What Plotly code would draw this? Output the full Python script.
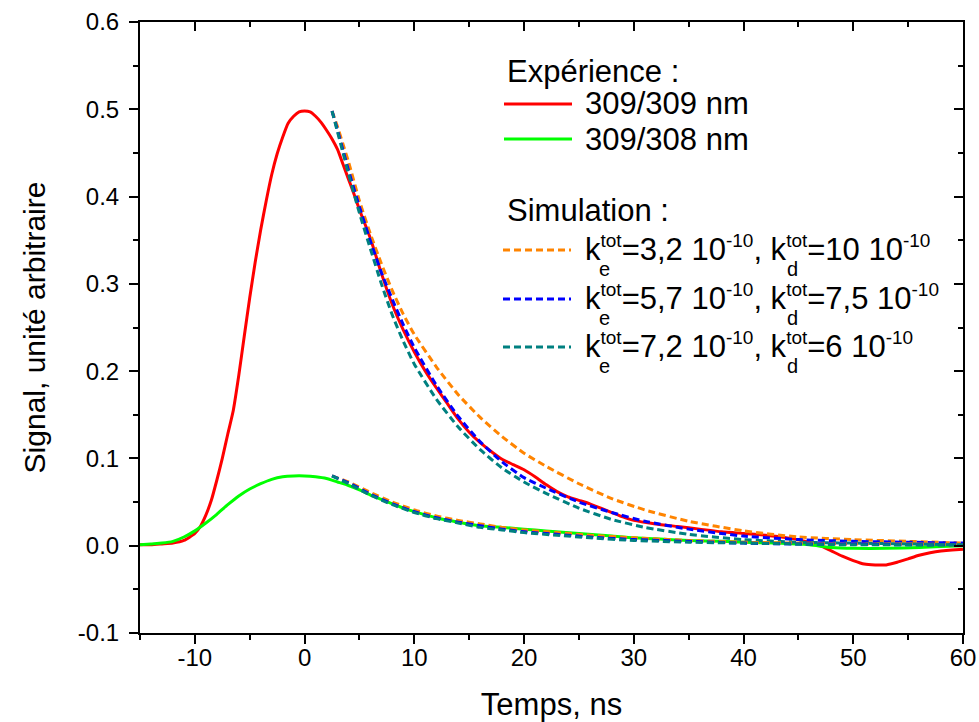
import plotly.graph_objects as go

# ---------------- data ----------------
t_exp_red = [-15, -14, -13, -12, -11, -10, -9.5, -9, -8.5, -8, -7.5, -7, -6.5, -6, -5.5, -5, -4.5, -4,
             -3.5, -3, -2.5, -2, -1.5, -1, -0.5, 0, 0.5, 1, 1.5, 2, 2.5, 3, 3.5, 4, 4.5, 5, 6, 7, 8, 9,
             10, 11, 12, 13, 14, 15, 16, 17, 18, 19, 20, 21, 22, 23, 24, 25, 26, 27, 28, 29, 30, 32,
             34, 36, 38, 40, 42, 44, 46, 47, 48, 49, 50, 51, 52, 53, 54, 55, 56, 57, 58, 59, 60]
sig_309_309 = [0.001, 0.001, 0.002, 0.003, 0.006, 0.014, 0.022, 0.035, 0.052, 0.075, 0.100, 0.128, 0.155,
               0.195, 0.240, 0.284, 0.325, 0.362, 0.395, 0.425, 0.449, 0.468, 0.484, 0.492, 0.497,
               0.498, 0.497, 0.492, 0.485, 0.476, 0.466, 0.454, 0.437, 0.420, 0.403, 0.385, 0.352,
               0.312, 0.276, 0.247, 0.222, 0.200, 0.181, 0.163, 0.145, 0.130, 0.118, 0.108, 0.099,
               0.093, 0.087, 0.079, 0.070, 0.062, 0.056, 0.052, 0.048, 0.043, 0.038, 0.033, 0.029,
               0.025, 0.022, 0.019, 0.016, 0.014, 0.012, 0.009, 0.004, 0.000, -0.006, -0.012, -0.017,
               -0.021, -0.022, -0.022, -0.019, -0.015, -0.011, -0.008, -0.006, -0.005, -0.004]

t_exp_green = [-15, -14, -13, -12, -11, -10, -9, -8, -7, -6, -5, -4, -3, -2, -1, 0, 1, 2, 3, 4, 5, 6,
               7, 8, 9, 10, 12, 14, 16, 18, 20, 22, 25, 28, 30, 32, 35, 38, 40, 43, 46, 48, 50, 53,
               56, 58, 60]
sig_309_308 = [0.001, 0.002, 0.003, 0.005, 0.010, 0.017, 0.026, 0.036, 0.047, 0.057, 0.065, 0.071,
               0.076, 0.079, 0.080, 0.080, 0.079, 0.077, 0.073, 0.069, 0.064, 0.058, 0.053, 0.048,
               0.043, 0.039, 0.032, 0.027, 0.023, 0.021, 0.019, 0.017, 0.014, 0.011, 0.009, 0.008,
               0.006, 0.005, 0.004, 0.003, 0.001, -0.002, -0.003, -0.003, -0.002, -0.001, 0.000]

t_sim_hi = [2.5, 3, 3.5, 4, 5, 6, 7, 8, 9, 10, 12, 14, 16, 18, 20, 22, 25, 28, 31, 35, 40, 45, 50,
            55, 60]
sim_a_hi = [0.498, 0.480, 0.460, 0.440, 0.395, 0.357, 0.323, 0.292, 0.265, 0.242, 0.205, 0.173,
            0.147, 0.125, 0.106, 0.091, 0.071, 0.054, 0.041, 0.028, 0.017, 0.010, 0.007, 0.005, 0.003]
sim_b_hi = [0.498, 0.476, 0.453, 0.430, 0.388, 0.349, 0.313, 0.282, 0.253, 0.227, 0.184, 0.148,
            0.119, 0.096, 0.078, 0.066, 0.050, 0.038, 0.028, 0.019, 0.011, 0.007, 0.005, 0.004, 0.003]
sim_c_hi = [0.498, 0.474, 0.450, 0.426, 0.381, 0.340, 0.300, 0.264, 0.234, 0.208, 0.168, 0.136,
            0.110, 0.089, 0.073, 0.060, 0.043, 0.030, 0.021, 0.013, 0.007, 0.004, 0.003, 0.002, 0.001]

t_sim_lo = [2.5, 4, 6, 8, 10, 12, 14, 16, 18, 20, 23, 26, 30, 35, 40, 45, 50, 55, 60]
sim_a_lo = [0.080, 0.073, 0.061, 0.050, 0.041, 0.034, 0.029, 0.025, 0.021, 0.018, 0.015, 0.012,
            0.009, 0.006, 0.004, 0.003, 0.002, 0.002, 0.001]
sim_b_lo = [0.080, 0.072, 0.059, 0.048, 0.039, 0.032, 0.027, 0.023, 0.019, 0.016, 0.013, 0.010,
            0.007, 0.005, 0.003, 0.002, 0.002, 0.001, 0.001]
sim_c_lo = [0.080, 0.071, 0.058, 0.047, 0.038, 0.031, 0.026, 0.021, 0.018, 0.015, 0.012, 0.009,
            0.006, 0.004, 0.003, 0.002, 0.001, 0.001, 0.001]

exp_labels = ["309/309 nm", "309/308 nm"]
sim_params = [("3,2", "10"), ("5,7", "7,5"), ("7,2", "6")]

x_tickvals = [-10, 0, 10, 20, 30, 40, 50, 60]
x_ticktext = ["-10", "0", "10", "20", "30", "40", "50", "60"]
y_tickvals = [-0.1, 0.0, 0.1, 0.2, 0.3, 0.4, 0.5, 0.6]
y_ticktext = ["-0.1", "0.0", "0.1", "0.2", "0.3", "0.4", "0.5", "0.6"]

# ---------------- styles ----------------
RED = "#FF0000"
GREEN = "#00FF00"
ORANGE = "#FF8400"
BLUE = "#0000FF"
TEAL = "#008080"
FONT = "Liberation Sans, Arial, sans-serif"
DASH = "7px,4px"

fig = go.Figure()

fig.add_trace(go.Scatter(x=t_exp_red, y=sig_309_309, mode="lines",
                         line=dict(color=RED, width=3, shape="spline", smoothing=0.5),
                         showlegend=False, hoverinfo="skip"))
fig.add_trace(go.Scatter(x=t_exp_green, y=sig_309_308, mode="lines",
                         line=dict(color=GREEN, width=3, shape="spline", smoothing=0.5),
                         showlegend=False, hoverinfo="skip"))

for tt, ys, col in [(t_sim_hi, sim_a_hi, ORANGE), (t_sim_hi, sim_b_hi, BLUE), (t_sim_hi, sim_c_hi, TEAL),
                    (t_sim_lo, sim_a_lo, ORANGE), (t_sim_lo, sim_b_lo, BLUE), (t_sim_lo, sim_c_lo, TEAL)]:
    fig.add_trace(go.Scatter(x=tt, y=ys, mode="lines",
                             line=dict(color=col, width=3, dash=DASH, shape="spline", smoothing=0.5),
                             showlegend=False, hoverinfo="skip"))

# empty trace so that the mirrored (top/right) axes exist
fig.add_trace(go.Scatter(x=[None], y=[None], xaxis="x2", yaxis="y2", showlegend=False,
                         hoverinfo="skip"))

# ---------------- layout (page pixel coords; body margin is removed below) ----------------
FIG_W, FIG_H = 979, 722
L, R, T, B = 140, 963, 22, 633      # plot box in page pixels
W, H = R - L, B - T


def px(xp):
    return (xp - L) / W


def py(yp):
    return (B - yp) / H


shapes = []
annotations = []

LEG_FONT = dict(size=31, color="black", family=FONT)

annotations.append(dict(x=px(505), y=py(72), xref="paper", yref="paper", text="Expérience :",
                        showarrow=False, xanchor="left", yanchor="middle", font=LEG_FONT))
for ypix, col, lab in [(104, RED, exp_labels[0]), (139, GREEN, exp_labels[1])]:
    shapes.append(dict(type="line", xref="paper", yref="paper", x0=px(504), x1=px(572),
                       y0=py(ypix), y1=py(ypix), line=dict(color=col, width=3)))
    annotations.append(dict(x=px(583), y=py(ypix), xref="paper", yref="paper", text=lab,
                            showarrow=False, xanchor="left", yanchor="middle", font=LEG_FONT))

annotations.append(dict(x=px(505), y=py(210), xref="paper", yref="paper", text="Simulation :",
                        showarrow=False, xanchor="left", yanchor="middle", font=LEG_FONT))

SUP = '<sup><span style="font-size:19px">{}</span></sup>'
for ypix, col, (ke, kd) in zip([250, 299, 347], [ORANGE, BLUE, TEAL], sim_params):
    shapes.append(dict(type="line", xref="paper", yref="paper", x0=px(503), x1=px(571),
                       y0=py(ypix), y1=py(ypix), line=dict(color=col, width=3, dash=DASH)))
    txt = ("k" + SUP.format("tot") + "=" + ke + " 10" + SUP.format("-10") + ", k" +
           SUP.format("tot") + "=" + kd + " 10" + SUP.format("-10"))
    annotations.append(dict(x=px(583), y=py(ypix + 19), xref="paper", yref="paper", text=txt,
                            showarrow=False, xanchor="left", yanchor="bottom", font=LEG_FONT))
    for xs, s in [(604, "e"), (792, "d")]:
        annotations.append(dict(x=px(xs), y=py(ypix + 19), xref="paper", yref="paper", text=s,
                                showarrow=False, xanchor="center", yanchor="middle",
                                font=dict(size=20, color="black", family=FONT)))

axis_common = dict(showgrid=False, zeroline=False, showline=True, linecolor="black", linewidth=2,
                   tickcolor="black", tickwidth=2, automargin=False)

fig.update_layout(
    template="none",
    width=FIG_W, height=FIG_H,
    margin=dict(l=L, r=FIG_W - R, t=T, b=FIG_H - B, pad=0, autoexpand=False),
    paper_bgcolor="white", plot_bgcolor="white",
    font=dict(family=FONT, color="black"),
    showlegend=False,
    xaxis=dict(range=[-15, 60], tickmode="array", tickvals=x_tickvals, ticktext=x_ticktext,
               ticks="outside", ticklen=9, tickfont=dict(size=24), ticklabelstandoff=-7,
               title=dict(text="Temps, ns", font=dict(size=31), standoff=26),
               minor=dict(ticks="outside", ticklen=5, dtick=5, tick0=0, tickcolor="black", tickwidth=2),
               **axis_common),
    yaxis=dict(range=[-0.1, 0.6], tickmode="array", tickvals=y_tickvals, ticktext=y_ticktext,
               ticks="outside", ticklen=9, tickfont=dict(size=24), ticklabelstandoff=5,
               title=dict(text="Signal, unité arbitraire", font=dict(size=30), standoff=23),
               minor=dict(ticks="outside", ticklen=5, dtick=0.05, tick0=0, tickcolor="black",
                          tickwidth=2),
               **axis_common),
    xaxis2=dict(range=[-15, 60], overlaying="x", side="top", anchor="y", tick0=0, dtick=10,
                ticks="inside", ticklen=9, showticklabels=False,
                minor=dict(ticks="inside", ticklen=5, dtick=5, tick0=0, tickcolor="black", tickwidth=2),
                **axis_common),
    yaxis2=dict(range=[-0.1, 0.6], overlaying="y", side="right", anchor="x", tick0=0, dtick=0.1,
                ticks="inside", ticklen=9, showticklabels=False,
                minor=dict(ticks="inside", ticklen=5, dtick=0.05, tick0=0, tickcolor="black",
                           tickwidth=2),
                **axis_common),
    shapes=shapes,
    annotations=annotations,
)

fig.write_html("out.html", config={"displayModeBar": False},
               post_script="document.body.style.margin='0px';document.body.style.overflow='hidden';")
